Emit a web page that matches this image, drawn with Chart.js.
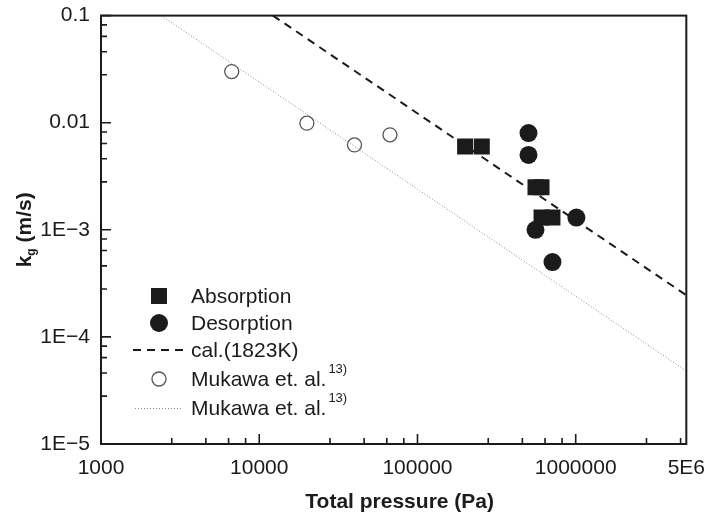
<!DOCTYPE html>
<html>
<head>
<meta charset="utf-8">
<script src="https://cdn.jsdelivr.net/npm/chart.js@4.4.1/dist/chart.umd.min.js"></script>
<style>
  body { margin: 0; background: #fff; }
  #wrap { width: 709px; height: 519px; }
</style>
</head>
<body>
<div id="wrap"><canvas id="chart-main" width="709" height="519"></canvas></div>
<script>
// data
const absP = [200000, 255000, 557000, 608000, 608000, 713000];
const absK = [0.006, 0.006, 0.0025, 0.0025, 0.0013, 0.0013];
const desP = [503000, 503000, 557000, 1010000, 713000];
const desK = [0.008, 0.005, 0.001, 0.0013, 0.0005];
const mukP = [6700, 20000, 40000, 67000];
const mukK = [0.030, 0.0099, 0.0062, 0.0077];
const calLineP = [12200, 5000000];
const calLineK = [0.1, 0.000245];
const mukLineP = [2400, 5000000];
const mukLineK = [0.1, 0.000048];

const xTicks = [1000, 10000, 100000, 1000000, 5000000];
const xTickLabels = ["1000", "10000", "100000", "1000000", "5E6"];
const yTicks = [0.00001, 0.0001, 0.001, 0.01, 0.1];
const yTickLabels = ["1E\u22125", "1E\u22124", "1E\u22123", "0.01", "0.1"];
const minorSteps = [2.8, 4.6, 6.4, 8.2];

const legendLabels = ["Absorption", "Desorption", "cal.(1823K)", "Mukawa et. al.", "Mukawa et. al."];

const FONT = "'Liberation Sans', Arial, sans-serif";
const ink = "#1b1b1b";

const pts = (xs, ys) => xs.map((x, i) => ({ x: x, y: ys[i] }));

const frame = {
  id: "frame",
  afterDraw(chart) {
    const { ctx, chartArea: a, scales } = chart;
    const sx = scales.x, sy = scales.y;
    ctx.save();
    ctx.strokeStyle = ink;
    ctx.lineWidth = 2;
    ctx.strokeRect(a.left, a.top, a.right - a.left, a.bottom - a.top);

    // inward ticks, bottom and left only
    ctx.lineWidth = 1.6;
    ctx.beginPath();
    for (let e = 3; e <= 6; e++) {
      const major = Math.pow(10, e);
      const px = sx.getPixelForValue(major);
      ctx.moveTo(px, a.bottom); ctx.lineTo(px, a.bottom - 10);
      minorSteps.forEach((m) => {
        const v = m * major;
        if (v < 5000000) {
          const p = sx.getPixelForValue(v);
          ctx.moveTo(p, a.bottom); ctx.lineTo(p, a.bottom - 6);
        }
      });
    }
    for (let e = -5; e <= -1; e++) {
      const major = Math.pow(10, e);
      const py = sy.getPixelForValue(major);
      ctx.moveTo(a.left, py); ctx.lineTo(a.left + 10, py);
      if (e < -1) {
        minorSteps.forEach((m) => {
          const p = sy.getPixelForValue(m * major);
          ctx.moveTo(a.left, p); ctx.lineTo(a.left + 6, p);
        });
      }
    }
    ctx.stroke();

    // axis titles
    ctx.fillStyle = ink;
    ctx.font = "bold 21px " + FONT;
    ctx.textAlign = "center";
    ctx.textBaseline = "middle";
    ctx.fillText("Total pressure (Pa)", (a.left + a.right) / 2 + 6, 502);

    ctx.save();
    ctx.translate(25, (a.top + a.bottom) / 2);
    ctx.rotate(-Math.PI / 2);
    ctx.textAlign = "left";
    const w1 = ctx.measureText("k").width;
    ctx.font = "bold 12px " + FONT;
    const w2 = ctx.measureText("g").width;
    ctx.font = "bold 21px " + FONT;
    const w3 = ctx.measureText(" (m/s)").width;
    let x0 = -(w1 + w2 + w3) / 2;
    ctx.fillText("k", x0, 0);
    ctx.font = "bold 12px " + FONT;
    ctx.fillText("g", x0 + w1, 7);
    ctx.font = "bold 21px " + FONT;
    ctx.fillText(" (m/s)", x0 + w1 + w2, 0);
    ctx.restore();

    // legend
    const lx = 159, tx = 191;
    const rows = [296, 323, 350, 379, 408];
    ctx.font = "21px " + FONT;
    ctx.textAlign = "left";
    rows.forEach((ry, i) => {
      ctx.fillStyle = ink;
      ctx.strokeStyle = ink;
      if (i === 0) {
        ctx.fillRect(lx - 8, ry - 8, 16, 16);
      } else if (i === 1) {
        ctx.beginPath(); ctx.arc(lx, ry, 9, 0, Math.PI * 2); ctx.fill();
      } else if (i === 2) {
        ctx.lineWidth = 2;
        ctx.setLineDash([8, 6]);
        ctx.beginPath(); ctx.moveTo(133, ry); ctx.lineTo(184, ry); ctx.stroke();
        ctx.setLineDash([]);
      } else if (i === 3) {
        ctx.strokeStyle = "#555";
        ctx.lineWidth = 1.3;
        ctx.beginPath(); ctx.arc(lx, ry, 7, 0, Math.PI * 2); ctx.stroke();
      } else {
        ctx.strokeStyle = "#8a8a8a";
        ctx.lineWidth = 1;
        ctx.setLineDash([1, 2]);
        ctx.beginPath(); ctx.moveTo(135, ry + 0.5); ctx.lineTo(183, ry + 0.5); ctx.stroke();
        ctx.setLineDash([]);
      }
      ctx.fillStyle = ink;
      ctx.font = "21px " + FONT;
      ctx.fillText(legendLabels[i], tx, ry + 1);
      if (i >= 3) {
        const w = ctx.measureText(legendLabels[i]).width;
        ctx.font = "13px " + FONT;
        ctx.fillText("13)", tx + w + 2, ry - 10);
      }
    });
    ctx.restore();
  },
};

const mainChart = new Chart(document.getElementById("chart-main"), {
  type: "scatter",
  data: {
    datasets: [
      {
        label: "cal.(1823K)",
        type: "line",
        data: pts(calLineP, calLineK),
        borderColor: ink,
        borderWidth: 2,
        borderDash: [8, 6],
        pointRadius: 0,
        fill: false,
      },
      {
        label: "Mukawa line",
        type: "line",
        data: pts(mukLineP, mukLineK),
        borderColor: "#8a8a8a",
        borderWidth: 1,
        borderDash: [1, 2],
        pointRadius: 0,
        fill: false,
      },
      {
        label: "Absorption",
        data: pts(absP, absK),
        pointStyle: "rect",
        pointRadius: 11.3,
        backgroundColor: ink,
        borderColor: ink,
        borderWidth: 0,
      },
      {
        label: "Desorption",
        data: pts(desP, desK),
        pointStyle: "circle",
        pointRadius: 9,
        backgroundColor: ink,
        borderColor: ink,
        borderWidth: 0,
      },
      {
        label: "Mukawa",
        data: pts(mukP, mukK),
        pointStyle: "circle",
        pointRadius: 7,
        backgroundColor: "#fff",
        borderColor: "#555",
        borderWidth: 1.3,
      },
    ],
  },
  options: {
    responsive: false,
    animation: false,
    layout: { padding: { top: 8, right: 14, left: 0, bottom: 0 } },
    plugins: { legend: { display: false }, tooltip: { enabled: false } },
    scales: {
      x: {
        type: "logarithmic",
        min: 1000,
        max: 5000000,
        grid: { display: false },
        border: { display: false },
        afterBuildTicks: (scale) => {
          scale.ticks = xTicks.map((v) => ({ value: v }));
        },
        afterFit: (scale) => { scale.height = 75; },
        ticks: {
          color: ink,
          padding: 4,
          autoSkip: false,
          maxRotation: 0,
          font: { family: FONT, size: 21 },
          callback: (v) => xTickLabels[xTicks.indexOf(v)],
        },
      },
      y: {
        type: "logarithmic",
        min: 0.00001,
        max: 0.1,
        grid: { display: false },
        border: { display: false },
        afterBuildTicks: (scale) => {
          scale.ticks = yTicks.map((v) => ({ value: v }));
        },
        afterFit: (scale) => { scale.width = 101; },
        ticks: {
          color: ink,
          padding: 3,
          autoSkip: false,
          font: { family: FONT, size: 21 },
          callback: (v) => yTickLabels[yTicks.indexOf(v)],
        },
      },
    },
  },
  plugins: [frame],
});
</script>
</body>
</html>
